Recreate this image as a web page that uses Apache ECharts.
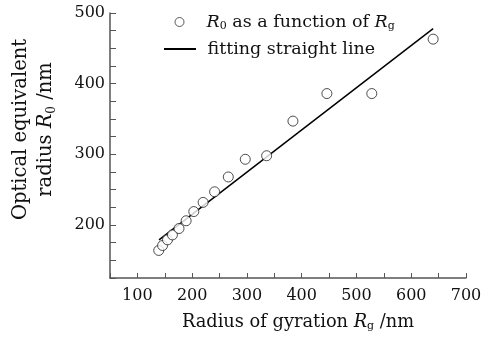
<!DOCTYPE html>
<html>
<head>
<meta charset="utf-8">
<script src="https://cdn.jsdelivr.net/npm/echarts@6/dist/echarts.min.js"></script>
<style>
  html, body { margin: 0; padding: 0; background: #ffffff; }
  #chart { width: 498px; height: 337px; }
</style>
</head>
<body>
<div id="chart"></div>
<script>
// Radius of gyration R_g (nm) and optical equivalent radius R_0 (nm)
const radiusGyration = [139, 146, 155, 164, 176, 189, 203, 220, 241, 266, 297, 336, 384, 446, 528, 640];
const radiusOptical  = [164, 171, 179, 186, 195, 206, 219, 232, 247, 268, 293, 298, 347, 386, 386, 463];

// End points of the fitted straight line
const fitX = [139.5, 640];
const fitY = [179, 478];

const xTicks = [100, 200, 300, 400, 500, 600, 700];
const yTicks = [200, 300, 400, 500];

const FONT = 'DejaVu Serif';
const INK = '#111111';
const AXIS = '#555555';

function richSet(size, lead) {
  return {
    p:  { fontFamily: FONT, fontSize: size, color: INK, padding: [0, 0, 0, lead || 0] },
    i:  { fontFamily: FONT, fontStyle: 'italic', fontSize: size, color: INK },
    s:  { fontFamily: FONT, fontSize: Math.round(size * 0.62), color: INK, verticalAlign: 'bottom', padding: [Math.round(size * 0.5), 0, 0, 0] },
    t:  { fontFamily: FONT, fontSize: size, color: INK }
  };
}

const chart = echarts.init(document.getElementById('chart'), null, { renderer: 'canvas' });

// tick filters: long ticks at hundreds, short ones (on overlay axes) at the fifties
const isMinor = v => Number(v) % 50 === 0 && Number(v) % 100 !== 0;
const isMajor = v => Number(v) % 100 === 0;

chart.setOption({
  backgroundColor: '#ffffff',
  animation: false,
  grid: { left: 109, right: 32, top: 13, bottom: 58, containLabel: false },
  legend: [
    {
      data: [{ name: 'scatter', icon: 'circle', itemStyle: { color: '#ffffff', borderColor: '#333333', borderWidth: 1 } }],
      left: 174.5, top: 13, padding: 0,
      itemWidth: 9, itemHeight: 9,
      formatter: () => '{p|}{i|R}{s|0}{t| as a function of }{i|R}{s|g}',
      textStyle: { rich: richSet(17.5, 17.5), fontFamily: FONT, fontSize: 17.5, color: INK }
    },
    {
      data: [{ name: 'fit', itemStyle: { color: 'rgba(0,0,0,0)', borderColor: 'rgba(0,0,0,0)', borderWidth: 0 } }],
      left: 163, top: 40, padding: 0,
      itemWidth: 32, itemHeight: 18,
      formatter: () => '{p|fitting straight line}',
      textStyle: { rich: richSet(17.5, 6.5), fontFamily: FONT, fontSize: 17.5, color: INK }
    }
  ],
  xAxis: [
    {
      type: 'value',
      min: 50, max: 700,
      interval: 50,
      name: '{t|Radius of gyration }{i|R}{s|g}{t| /nm}',
      nameLocation: 'middle',
      nameGap: 34,
      nameTextStyle: { rich: richSet(17.8), padding: [0, 0, 0, 20] },
      axisLine: { show: true, lineStyle: { color: AXIS, width: 1.5 } },
      axisTick: { show: true, inside: true, length: 5, lineStyle: { color: AXIS }, interval: (i, v) => isMajor(v) },
      splitLine: { show: false },
      axisLabel: {
        fontFamily: FONT, fontSize: 16, color: INK, margin: 10,
        formatter: v => (xTicks.indexOf(v) >= 0 ? String(v) : '')
      }
    },
    {
      type: 'value',
      min: 50, max: 700,
      interval: 50,
      position: 'bottom',
      axisLine: { show: false },
      axisTick: { show: true, inside: true, length: 3, lineStyle: { color: AXIS }, interval: (i, v) => isMinor(v) },
      splitLine: { show: false },
      axisLabel: { show: false }
    }
  ],
  yAxis: [
    {
      type: 'value',
      min: 125, max: 500,
      interval: 25,
      name: '{t|Optical equivalent}\n{t|radius }{i|R}{s|0}{t| /nm}',
      nameLocation: 'middle',
      nameRotate: 90,
      nameGap: 52,
      nameTextStyle: { rich: richSet(19.5), lineHeight: 25, align: 'center', padding: [0, 0, 0, 32] },
      axisLine: { show: true, lineStyle: { color: AXIS, width: 1.5 } },
      axisTick: { show: true, inside: true, length: 6, lineStyle: { color: AXIS }, interval: (i, v) => isMajor(v) },
      splitLine: { show: false },
      axisLabel: {
        fontFamily: FONT, fontSize: 16, color: INK, margin: 5,
        formatter: v => (yTicks.indexOf(v) >= 0 ? String(v) : '')
      }
    },
    {
      type: 'value',
      min: 125, max: 500,
      interval: 25,
      position: 'left',
      axisLine: { show: false },
      axisTick: { show: true, inside: true, length: 3, lineStyle: { color: AXIS }, interval: (i, v) => isMinor(v) },
      splitLine: { show: false },
      axisLabel: { show: false }
    }
  ],
  series: [
    {
      name: 'scatter',
      type: 'scatter',
      symbol: 'circle',
      symbolSize: 10,
      itemStyle: { color: '#ffffff', borderColor: '#222222', borderWidth: 1 },
      data: radiusGyration.map((x, k) => [x, radiusOptical[k]]),
      z: 3
    },
    {
      name: 'fit',
      type: 'line',
      symbol: 'none',
      itemStyle: { color: '#000000' },
      lineStyle: { color: '#000000', width: 1.5 },
      data: fitX.map((x, k) => [x, fitY[k]]),
      z: 2
    }
  ]
});
</script>
</body>
</html>
